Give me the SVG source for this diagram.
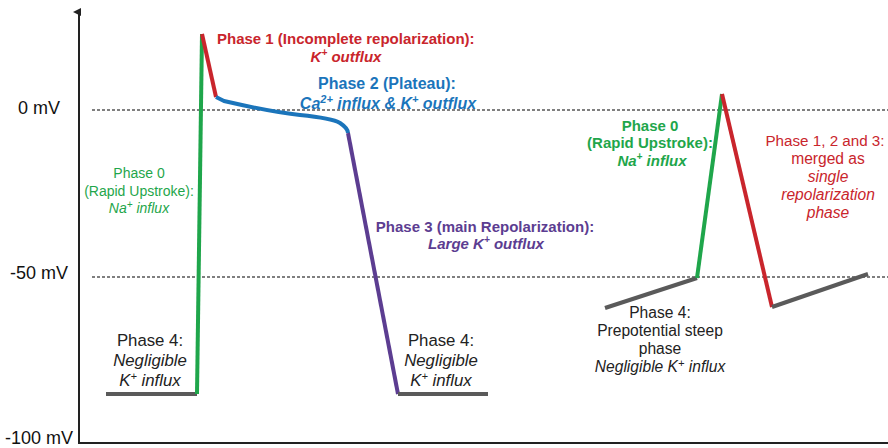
<svg xmlns="http://www.w3.org/2000/svg" width="888" height="448" viewBox="0 0 888 448">
<defs>
<marker id="arr" markerWidth="8" markerHeight="8" refX="4" refY="6" orient="auto" markerUnits="userSpaceOnUse"><path d="M0,8 L4,0 L8,8 Z" fill="#222"/></marker>
<style>
text{font-family:"Liberation Sans",Arial,sans-serif;}
.ax{font-size:18px;fill:#111;}
.g{fill:#1fa64b;}
.r{fill:#c9252c;}
.b{fill:#1b75bb;}
.p{fill:#5c3d91;}
.k{fill:#222;}
.bold{font-weight:bold;}
.it{font-style:italic;}
.t14{font-size:14px;}
.t15{font-size:15px;}
.t155{font-size:15.6px;}
.t16{font-size:16px;}
.t17{font-size:16.8px;}
.c{text-anchor:middle;}
.ln{fill:none;stroke-width:4;stroke-linejoin:round;}
.dash{stroke:#555;stroke-width:1.5;stroke-dasharray:3 2;fill:none;}
</style>
</defs>
<rect width="888" height="448" fill="#fff"/>
<g id="axes">
<line x1="79" y1="443" x2="79" y2="12" stroke="#222" stroke-width="2" marker-end="url(#arr)"/>
<line x1="78" y1="443" x2="888" y2="443" stroke="#222" stroke-width="2"/>
<text class="ax" x="18" y="114">0 mV</text>
<text class="ax" x="10" y="279">-50 mV</text>
<text class="ax" x="5" y="444">-100 mV</text>
</g>
<g id="gridlines">
<line class="dash" x1="92" y1="110" x2="888" y2="110"/>
<line class="dash" x1="92" y1="277" x2="888" y2="277"/>
</g>
<g id="connectors">
<polyline class="ln" stroke="#5a5a5a" points="106,394 197,394"/>
<polyline class="ln" stroke="#1fa64b" points="197,394 202,34"/>
<polyline class="ln" stroke="#c9252c" points="202,34 216,97"/>
<path class="ln" stroke="#1b75bb" d="M216,97 L224,101 C250,107 280,113 300,115 C320,117 335,120 340,123 C346,127 348,130 348,133"/>
<polyline class="ln" stroke="#5c3d91" points="348,133 398,394"/>
<polyline class="ln" stroke="#5a5a5a" points="398,394 488,394"/>
<polyline class="ln" stroke="#5a5a5a" points="605,308 697,278"/>
<polyline class="ln" stroke="#1fa64b" points="697,278 722,94"/>
<polyline class="ln" stroke="#c9252c" points="722,94 772,307"/>
<polyline class="ln" stroke="#5a5a5a" points="772,307 868,274"/>
</g>
<g id="phase1">
<text class="r bold t15" x="217" y="44">Phase 1 (Incomplete repolarization):</text>
<text class="r bold it t15 c" x="346" y="62">K<tspan font-size="10" dy="-6">+</tspan><tspan dy="6"> outflux</tspan></text>
</g>
<g id="phase2">
<text class="b bold t16 c" x="387" y="89">Phase 2 (Plateau):</text>
<text class="b bold it t16 c" x="388" y="109">Ca<tspan font-size="11" dy="-6">2+</tspan><tspan dy="6"> influx &amp; K</tspan><tspan font-size="11" dy="-6">+</tspan><tspan dy="6"> outflux</tspan></text>
</g>
<g id="phase0a">
<text class="g t14 c" x="139" y="178">Phase 0</text>
<text class="g t14 c" x="139" y="196">(Rapid Upstroke):</text>
<text class="g it t14 c" x="139" y="213">Na<tspan font-size="10" dy="-5">+</tspan><tspan dy="5"> influx</tspan></text>
</g>
<g id="phase4a">
<text class="k t17 c" x="150" y="346">Phase 4:</text>
<text class="k it t17 c" x="150" y="366">Negligible</text>
<text class="k it t17 c" x="150" y="386">K<tspan font-size="11" dy="-6">+</tspan><tspan dy="6"> influx</tspan></text>
</g>
<g id="phase3">
<text class="p bold t15 c" x="485" y="232">Phase 3 (main Repolarization):</text>
<text class="p bold it t15 c" x="486" y="249">Large K<tspan font-size="10" dy="-6">+</tspan><tspan dy="6"> outflux</tspan></text>
</g>
<g id="phase4b">
<text class="k t17 c" x="441" y="346">Phase 4:</text>
<text class="k it t17 c" x="441" y="366">Negligible</text>
<text class="k it t17 c" x="441" y="386">K<tspan font-size="11" dy="-6">+</tspan><tspan dy="6"> influx</tspan></text>
</g>
<g id="phase0b">
<text class="g bold t15 c" x="650" y="131">Phase 0</text>
<text class="g bold t15 c" x="650" y="148">(Rapid Upstroke):</text>
<text class="g bold it t15 c" x="652" y="166">Na<tspan font-size="10" dy="-6">+</tspan><tspan dy="6"> influx</tspan></text>
</g>
<g id="phase123">
<text class="r c" font-size="15.2" x="825" y="146">Phase 1, 2 and 3:</text>
<text class="r t155 c" x="828" y="164">merged as</text>
<text class="r it t155 c" x="828" y="182">single</text>
<text class="r it t155 c" x="828" y="200">repolarization</text>
<text class="r it t155 c" x="828" y="218">phase</text>
</g>
<g id="phase4c">
<text class="k t155 c" x="660" y="318">Phase 4:</text>
<text class="k t155 c" x="660" y="336">Prepotential steep</text>
<text class="k t155 c" x="660" y="354">phase</text>
<text class="k it t155 c" x="660" y="372">Negligible K<tspan font-size="11" dy="-5">+</tspan><tspan dy="5"> influx</tspan></text>
</g>
</svg>
